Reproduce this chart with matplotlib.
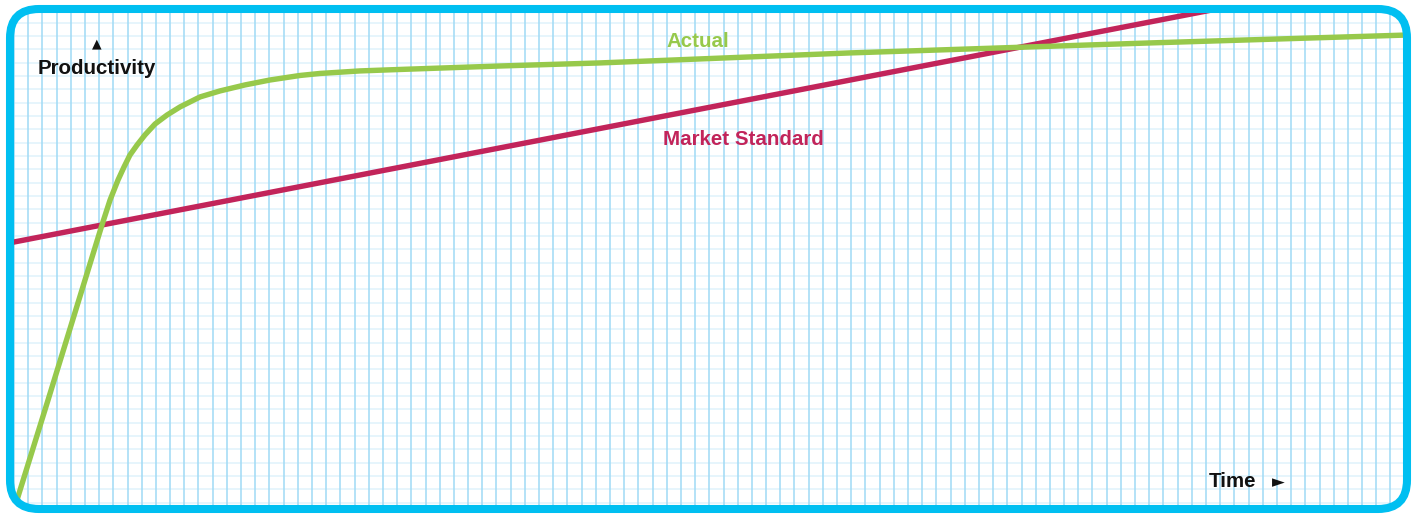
import matplotlib
matplotlib.use('Agg')
import matplotlib.pyplot as plt
from matplotlib.patches import FancyBboxPatch
import numpy as np

# values, in grid squares (time across, productivity up)
actual_time = [0.1, 2.4, 6.2, 6.77, 7.33, 7.75, 8.17, 8.67, 9.23, 9.94, 10.78,
               11.7, 13.11, 14.52, 16.28, 18.04, 20.16, 21.56, 24.38, 27.2,
               34.25, 41.3, 58.91, 80.06, 99.0]
actual_prod = [-0.18, 7.7, 20.83, 22.7, 24.2, 25.17, 26.07, 26.82, 27.58, 28.4,
               29.07, 29.68, 30.43, 30.88, 31.33, 31.7, 32.04, 32.19, 32.38,
               32.49, 32.75, 32.98, 33.73, 34.48, 35.1]
market_time = [-1.0, 99.0]
market_prod = [19.34, 39.96]

green = '#97c94b'
red = '#c2245a'
cyan = '#00bff1'


def main():
    fig = plt.figure(figsize=(14.18, 5.14), dpi=100)
    ax = fig.add_axes([0, 0, 1, 1])
    ax.set_xlim(-0.987, 98.94)
    ax.set_ylim(-0.855, 37.70)
    ax.axis('off')

    # overlay in pixel units for the frame and the labels
    fr = fig.add_axes([0, 0, 1, 1], zorder=5)
    fr.set_xlim(0, 1418)
    fr.set_ylim(514, 0)
    fr.axis('off')
    fr.patch.set_alpha(0)

    box_style = 'round,pad=0,rounding_size=29'
    clip = FancyBboxPatch((10, 9), 1397, 500, boxstyle=box_style,
                          transform=fr.transData, facecolor='none', edgecolor='none')

    # graph paper
    h = ax.hlines(np.arange(0, 38), -1, 99, color='#e1f3fc', lw=1.2, zorder=1)
    v = ax.vlines(np.arange(0, 99), -1, 38, color='#a3dbf5', lw=1.15, zorder=2)
    h.set_clip_path(clip)
    v.set_clip_path(clip)

    l1, = ax.plot(market_time, market_prod, color=red, lw=3.9, zorder=3,
                  solid_capstyle='butt')
    l2, = ax.plot(actual_time, actual_prod, color=green, lw=3.9, zorder=4,
                  solid_capstyle='butt', solid_joinstyle='round')
    l1.set_clip_path(clip)
    l2.set_clip_path(clip)

    fr.add_patch(FancyBboxPatch((10, 9), 1397, 500, boxstyle=box_style,
                                facecolor='none', edgecolor=cyan, lw=5.8))

    font = dict(family='Liberation Sans', fontweight='bold', fontsize=14.8)
    fr.text(38, 74, 'Productivity', color='#111111', va='baseline', ha='left', **font)
    fr.text(666, 47, 'Actual', color=green, va='baseline', ha='left', **font)
    fr.text(663, 145, 'Market Standard', color=red, va='baseline', ha='left', **font)
    fr.text(1209, 487, 'Time', color='#111111', va='baseline', ha='left', **font)
    fr.text(97, 44, '\u25b2', color='#111111', ha='center', va='center',
            fontsize=9, family='DejaVu Sans')
    fr.text(1278, 482, '\u25ba', color='#111111', ha='center', va='center',
            fontsize=12, family='DejaVu Sans')

    fig.savefig('out.png', dpi=100)


if __name__ == "__main__":
    main()
